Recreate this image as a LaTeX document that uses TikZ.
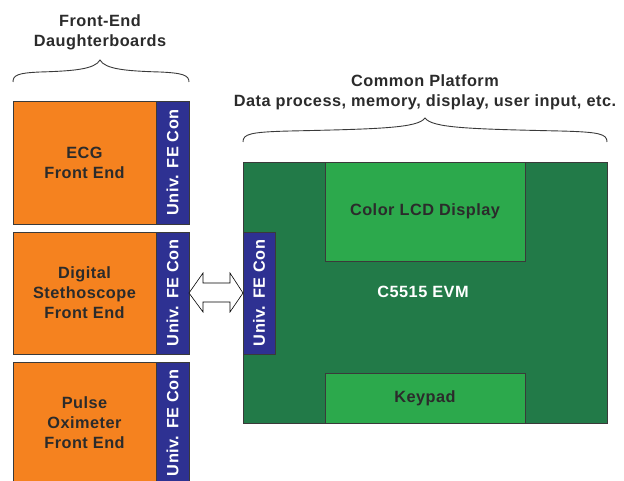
\documentclass[tikz,border=0pt]{standalone}
\usepackage{fontspec}
\setmainfont[LetterSpace=3]{Liberation Sans}
\definecolor{feorange}{HTML}{F5821F}
\definecolor{conblue}{HTML}{2E3192}
\definecolor{evmgreen}{HTML}{227A48}
\definecolor{partgreen}{HTML}{2CA94C}
\definecolor{txtdark}{HTML}{2B2B2B}
\definecolor{edgegray}{HTML}{3A3A3A}
\begin{document}
\begin{tikzpicture}[x=1pt,y=-1pt,
  every node/.style={inner sep=0pt,outer sep=0pt,font=\bfseries\fontsize{16.3pt}{20pt}\selectfont,align=center},
  box/.style={draw=edgegray,line width=0.9pt},
  orbox/.style={box,fill=feorange,text=txtdark},
  conbox/.style={box,fill=conblue,text=white,rotate=90,minimum height=33pt},
  partbox/.style={box,fill=partgreen,text=txtdark},
  bracesty/.style={draw=edgegray,line width=0.9pt},
  dblarrow/.style={draw=black,fill=white,line width=0.6pt,line join=miter}]
\useasboundingbox (0,0) rectangle (624,481);
\clip (0,0) rectangle (624,481);
% titles
\node[text=txtdark] (t1) at (100,32) {Front-End\\Daughterboards};
\node[text=txtdark] (t2) at (425,92) {Common Platform\\Data process, memory, display, user input, etc.};
% braces
\draw[bracesty] (13,82) .. controls (13,75) and (18,73) .. (40,72) .. controls (75,71) and (95,69) .. (100,60)
  .. controls (105,69) and (125,71) .. (160,72) .. controls (182,73) and (189,75) .. (189,82);
\draw[bracesty] (243,142) .. controls (243,134) and (250,132) .. (290,131) .. controls (380,129) and (418,128) .. (425,118)
  .. controls (432,128) and (470,129) .. (560,131) .. controls (600,132) and (607,134) .. (607,142);
% front-end boards
\node[orbox,minimum width=143pt,minimum height=123pt] (fe1) at (84.5,162.5) {ECG\\Front End};
\node[conbox,minimum width=123pt] (c1) at (172.5,162.5) {Univ. FE Con};
\node[orbox,minimum width=143pt,minimum height=122pt] (fe2) at (84.5,293) {Digital\\Stethoscope\\Front End};
\node[conbox,minimum width=122pt] (c2) at (172.5,293) {Univ. FE Con};
\node[orbox,minimum width=143pt,minimum height=122pt] (fe3) at (84.5,423) {Pulse\\Oximeter\\Front End};
\node[conbox,minimum width=122pt] (c3) at (172.5,423) {Univ. FE Con};
% EVM
\node[box,fill=evmgreen,minimum width=364pt,minimum height=261pt] (evm) at (425,292.5) {};
\node[partbox,minimum width=200pt,minimum height=99pt] (lcd) at (425,211.5) {Color LCD Display};
\node[partbox,minimum width=200pt,minimum height=50pt] (kp) at (425,398) {Keypad};
\node[text=white] (evmlbl) at (423,292) {C5515 EVM};
\node[conbox,minimum width=122pt,minimum height=32pt] (ec) at (259,293) {Univ. FE Con};
% double arrow between connectors
\draw[dblarrow] (c2.south) -- ++(14,-20) -- ++(0,10) -- ++(27,0) -- ++(0,-10) -- (ec.north)
  -- ++(-13,19) -- ++(0,-10) -- ++(-27,0) -- ++(0,10) -- cycle;
\end{tikzpicture}
\end{document}
